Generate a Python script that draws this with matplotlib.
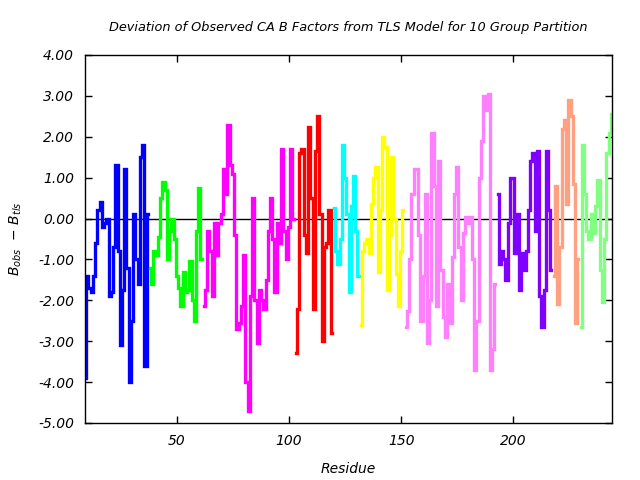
import matplotlib
matplotlib.use("Agg")
import matplotlib.pyplot as plt
import numpy as np

# group start residues and values
blue_start = 9
blue = [-3.9, -1.4, -1.7, -1.8, -1.4, -0.6, 0.2, 0.4, -0.2, -0.1, 0.0, -1.9, -1.8, -0.7, 1.3,
        -0.8, -3.1, -1.75, 1.2, -1.2, -4.0, -2.5, 0.1, -1.0, -1.6, 1.5, 1.8, -3.6, 0.1]
green_start = 38
green = [-1.2, -1.6, -0.8, -0.9, -0.45, 0.5, 0.9, 0.7, -1.0, -0.3, 0.0, -0.5, -1.4, -1.7,
         -2.15, -1.3, -1.8, -1.75, -1.05, -2.0, -2.5, -0.3, 0.75, -1.0]
magenta_start = 62
magenta = [-2.15, -1.75, -0.3, -0.8, -1.9, -0.1, -0.9, -0.1, 0.1, 1.2, 0.6, 2.3, 1.3, 1.1,
           -0.4, -2.7, -2.55, -2.15, -0.9, -4.0, -4.7, -1.9, 0.5, -2.0, -3.05, -1.75, -2.0,
           -2.2, -1.5, -0.3, 0.5, -0.5, -1.8, -0.1, -0.6, 1.7, -0.3, -1.0, -0.2, 1.7, 0.0]
red_start = 103
red = [-3.3, -2.2, 1.6, 1.7, -0.4, -0.85, 2.25, 0.5, -2.2, 1.65, 2.5, 0.1, -3.0, -0.7,
       -0.6, 0.2, -2.8]
cyan_start = 120
cyan = [0.25, -0.8, -1.1, -0.5, 1.8, 1.0, 0.1, -1.8, 0.3, 1.05, -0.3, -1.4]
yellow_start = 132
yellow = [-2.6, -0.8, -0.6, -0.5, -0.85, 0.35, 1.0, 1.25, -1.3, 0.2, 2.0, 1.75, -1.75, -0.4,
          1.5, 0.0, -1.35, -2.15, -0.8, 0.2]
pink_start = 152
pink = [-2.65, -2.25, -1.0, 0.6, 1.2, 1.2, -0.4, -2.5, -1.4, 0.6, -3.05, -2.0, 2.1, 0.8,
        -2.15, 1.4, -1.25, -2.4, -2.9, -1.6, -2.55, -0.95, 0.6, 1.25, -0.7, -2.0, -0.35,
        0.05, -0.1, 0.05, -1.0, -3.7, -2.5, 1.0, 1.9, 3.0, 2.65, 3.05, -3.7, -3.2, -1.6]
purple_start = 193
purple = [0.6, -1.1, -0.8, -1.0, -1.5, -0.1, 1.0, 1.0, -0.85, 0.1, -1.75, -0.85, -1.25,
          -0.8, 0.2, 1.4, 1.6, -0.3, 1.65, -1.9, -2.65, -1.75, 1.65, 0.2, -1.25]
salmon_start = 218
salmon = [-1.4, 0.8, -2.1, -0.7, 2.2, 2.4, 0.35, 2.9, 2.5, 0.85, -2.55, -1.0]
lgreen_start = 230
lgreen = [-2.65, 1.8, 0.6, -0.3, -0.5, 0.1, -0.35, 0.3, 0.95, -1.25, -2.05, -0.5, 1.6,
          2.1, 2.55]

groups = [
    (blue_start, blue, "#0000ff"),
    (green_start, green, "#00ff00"),
    (magenta_start, magenta, "#ff00ff"),
    (red_start, red, "#ff0000"),
    (cyan_start, cyan, "#00ffff"),
    (yellow_start, yellow, "#ffff00"),
    (pink_start, pink, "#ff80ff"),
    (purple_start, purple, "#8000ff"),
    (salmon_start, salmon, "#ffa080"),
    (lgreen_start, lgreen, "#80ff80"),
]

yticks = [4, 3, 2, 1, 0, -1, -2, -3, -4, -5]
xticks = [50, 100, 150, 200]

fig = plt.figure(figsize=(6.4, 4.8), dpi=100)
ax = fig.add_axes([85/640, 1-423/480, (612-85)/640, (423-55)/480])

ax.axhline(0, color="black", lw=1.0, zorder=1)
for start, vals, col in groups:
    x = np.arange(start, start + len(vals))
    ax.plot(x, vals, color=col, lw=2.4, drawstyle="steps-mid",
            solid_joinstyle="miter", zorder=2)

ax.set_xlim(9, 244)
ax.set_ylim(-5, 4)
ax.set_xticks(xticks)
ax.set_yticks(yticks)
ax.set_yticklabels([f"{v:.2f}" for v in yticks])
ax.tick_params(direction="in", top=True, right=True, length=5, width=1,
               labelsize=10, pad=8)
for lbl in ax.get_xticklabels() + ax.get_yticklabels():
    lbl.set_fontstyle("italic")
for s in ax.spines.values():
    s.set_linewidth(1.0)

ax.set_title("Deviation of Observed CA B Factors from TLS Model for 10 Group Partition",
             fontsize=9.3, fontstyle="italic", pad=17)
ax.set_xlabel("Residue", fontsize=10, fontstyle="italic", labelpad=10)
ax.set_ylabel(r"$B_{obs}$  $-$ $B_{tls}$", fontsize=10, labelpad=10)

fig.savefig("out.png", dpi=100)
